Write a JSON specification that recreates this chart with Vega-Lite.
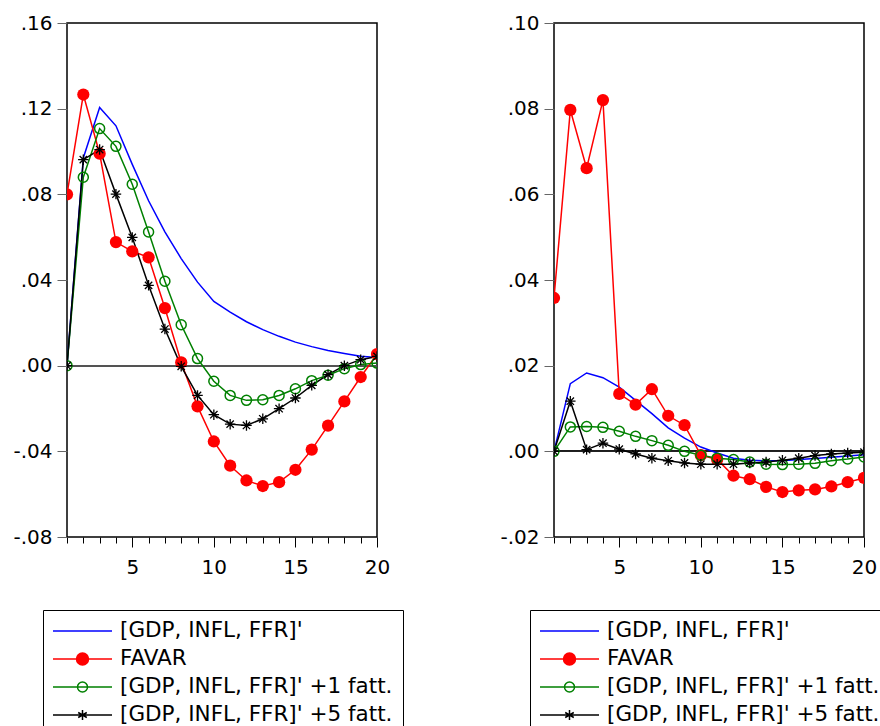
{
  "$schema": "https://vega.github.io/schema/vega-lite/v6.json",
  "padding": {"left": 12, "top": 12, "right": 0, "bottom": 0},
  "background": "white",
  "config": {"view": {"stroke": "black", "strokeWidth": 1.5}, "font": "DejaVu Sans"},
  "spacing": 177,
  "bounds": "flush",
  "resolve": {"scale": {"x": "independent", "y": "independent", "color": "independent"}, "legend": {"color": "independent"}},
  "datasets": {
    "irf": [
      {"p":"L","s":"[GDP, INFL, FFR]'","x":1,"y":0},
      {"p":"L","s":"[GDP, INFL, FFR]'","x":2,"y":0.097},
      {"p":"L","s":"[GDP, INFL, FFR]'","x":3,"y":0.1205},
      {"p":"L","s":"[GDP, INFL, FFR]'","x":4,"y":0.112},
      {"p":"L","s":"[GDP, INFL, FFR]'","x":5,"y":0.094},
      {"p":"L","s":"[GDP, INFL, FFR]'","x":6,"y":0.077},
      {"p":"L","s":"[GDP, INFL, FFR]'","x":7,"y":0.0625},
      {"p":"L","s":"[GDP, INFL, FFR]'","x":8,"y":0.05},
      {"p":"L","s":"[GDP, INFL, FFR]'","x":9,"y":0.039},
      {"p":"L","s":"[GDP, INFL, FFR]'","x":10,"y":0.03},
      {"p":"L","s":"[GDP, INFL, FFR]'","x":11,"y":0.025},
      {"p":"L","s":"[GDP, INFL, FFR]'","x":12,"y":0.0205},
      {"p":"L","s":"[GDP, INFL, FFR]'","x":13,"y":0.0168},
      {"p":"L","s":"[GDP, INFL, FFR]'","x":14,"y":0.0137},
      {"p":"L","s":"[GDP, INFL, FFR]'","x":15,"y":0.011},
      {"p":"L","s":"[GDP, INFL, FFR]'","x":16,"y":0.0089},
      {"p":"L","s":"[GDP, INFL, FFR]'","x":17,"y":0.0071},
      {"p":"L","s":"[GDP, INFL, FFR]'","x":18,"y":0.0057},
      {"p":"L","s":"[GDP, INFL, FFR]'","x":19,"y":0.0044},
      {"p":"L","s":"[GDP, INFL, FFR]'","x":20,"y":0.0038},
      {"p":"L","s":"FAVAR","x":1,"y":0.080},
      {"p":"L","s":"FAVAR","x":2,"y":0.1266},
      {"p":"L","s":"FAVAR","x":3,"y":0.099},
      {"p":"L","s":"FAVAR","x":4,"y":0.0577},
      {"p":"L","s":"FAVAR","x":5,"y":0.0534},
      {"p":"L","s":"FAVAR","x":6,"y":0.0506},
      {"p":"L","s":"FAVAR","x":7,"y":0.0269},
      {"p":"L","s":"FAVAR","x":8,"y":0.0015},
      {"p":"L","s":"FAVAR","x":9,"y":-0.019},
      {"p":"L","s":"FAVAR","x":10,"y":-0.0354},
      {"p":"L","s":"FAVAR","x":11,"y":-0.0467},
      {"p":"L","s":"FAVAR","x":12,"y":-0.0536},
      {"p":"L","s":"FAVAR","x":13,"y":-0.0562},
      {"p":"L","s":"FAVAR","x":14,"y":-0.0544},
      {"p":"L","s":"FAVAR","x":15,"y":-0.0486},
      {"p":"L","s":"FAVAR","x":16,"y":-0.0392},
      {"p":"L","s":"FAVAR","x":17,"y":-0.028},
      {"p":"L","s":"FAVAR","x":18,"y":-0.0167},
      {"p":"L","s":"FAVAR","x":19,"y":-0.0053},
      {"p":"L","s":"FAVAR","x":20,"y":0.0054},
      {"p":"L","s":"[GDP, INFL, FFR]' +1 fatt.","x":1,"y":0},
      {"p":"L","s":"[GDP, INFL, FFR]' +1 fatt.","x":2,"y":0.088},
      {"p":"L","s":"[GDP, INFL, FFR]' +1 fatt.","x":3,"y":0.1107},
      {"p":"L","s":"[GDP, INFL, FFR]' +1 fatt.","x":4,"y":0.1024},
      {"p":"L","s":"[GDP, INFL, FFR]' +1 fatt.","x":5,"y":0.0847},
      {"p":"L","s":"[GDP, INFL, FFR]' +1 fatt.","x":6,"y":0.0624},
      {"p":"L","s":"[GDP, INFL, FFR]' +1 fatt.","x":7,"y":0.0394},
      {"p":"L","s":"[GDP, INFL, FFR]' +1 fatt.","x":8,"y":0.0191},
      {"p":"L","s":"[GDP, INFL, FFR]' +1 fatt.","x":9,"y":0.0033},
      {"p":"L","s":"[GDP, INFL, FFR]' +1 fatt.","x":10,"y":-0.0073},
      {"p":"L","s":"[GDP, INFL, FFR]' +1 fatt.","x":11,"y":-0.0139},
      {"p":"L","s":"[GDP, INFL, FFR]' +1 fatt.","x":12,"y":-0.0162},
      {"p":"L","s":"[GDP, INFL, FFR]' +1 fatt.","x":13,"y":-0.0159},
      {"p":"L","s":"[GDP, INFL, FFR]' +1 fatt.","x":14,"y":-0.0139},
      {"p":"L","s":"[GDP, INFL, FFR]' +1 fatt.","x":15,"y":-0.0108},
      {"p":"L","s":"[GDP, INFL, FFR]' +1 fatt.","x":16,"y":-0.007},
      {"p":"L","s":"[GDP, INFL, FFR]' +1 fatt.","x":17,"y":-0.0045},
      {"p":"L","s":"[GDP, INFL, FFR]' +1 fatt.","x":18,"y":-0.0014},
      {"p":"L","s":"[GDP, INFL, FFR]' +1 fatt.","x":19,"y":0.0005},
      {"p":"L","s":"[GDP, INFL, FFR]' +1 fatt.","x":20,"y":0.0012},
      {"p":"L","s":"[GDP, INFL, FFR]' +5 fatt.","x":1,"y":0},
      {"p":"L","s":"[GDP, INFL, FFR]' +5 fatt.","x":2,"y":0.0962},
      {"p":"L","s":"[GDP, INFL, FFR]' +5 fatt.","x":3,"y":0.1009},
      {"p":"L","s":"[GDP, INFL, FFR]' +5 fatt.","x":4,"y":0.0801},
      {"p":"L","s":"[GDP, INFL, FFR]' +5 fatt.","x":5,"y":0.0599},
      {"p":"L","s":"[GDP, INFL, FFR]' +5 fatt.","x":6,"y":0.0375},
      {"p":"L","s":"[GDP, INFL, FFR]' +5 fatt.","x":7,"y":0.0171},
      {"p":"L","s":"[GDP, INFL, FFR]' +5 fatt.","x":8,"y":-0.0003},
      {"p":"L","s":"[GDP, INFL, FFR]' +5 fatt.","x":9,"y":-0.0139},
      {"p":"L","s":"[GDP, INFL, FFR]' +5 fatt.","x":10,"y":-0.0229},
      {"p":"L","s":"[GDP, INFL, FFR]' +5 fatt.","x":11,"y":-0.0273},
      {"p":"L","s":"[GDP, INFL, FFR]' +5 fatt.","x":12,"y":-0.0279},
      {"p":"L","s":"[GDP, INFL, FFR]' +5 fatt.","x":13,"y":-0.0248},
      {"p":"L","s":"[GDP, INFL, FFR]' +5 fatt.","x":14,"y":-0.0201},
      {"p":"L","s":"[GDP, INFL, FFR]' +5 fatt.","x":15,"y":-0.0151},
      {"p":"L","s":"[GDP, INFL, FFR]' +5 fatt.","x":16,"y":-0.0092},
      {"p":"L","s":"[GDP, INFL, FFR]' +5 fatt.","x":17,"y":-0.0042},
      {"p":"L","s":"[GDP, INFL, FFR]' +5 fatt.","x":18,"y":0.0},
      {"p":"L","s":"[GDP, INFL, FFR]' +5 fatt.","x":19,"y":0.0028},
      {"p":"L","s":"[GDP, INFL, FFR]' +5 fatt.","x":20,"y":0.0043},
      {"p":"R","s":"[GDP, INFL, FFR]'","x":1,"y":0},
      {"p":"R","s":"[GDP, INFL, FFR]'","x":2,"y":0.0158},
      {"p":"R","s":"[GDP, INFL, FFR]'","x":3,"y":0.0183},
      {"p":"R","s":"[GDP, INFL, FFR]'","x":4,"y":0.0172},
      {"p":"R","s":"[GDP, INFL, FFR]'","x":5,"y":0.015},
      {"p":"R","s":"[GDP, INFL, FFR]'","x":6,"y":0.0119},
      {"p":"R","s":"[GDP, INFL, FFR]'","x":7,"y":0.0088},
      {"p":"R","s":"[GDP, INFL, FFR]'","x":8,"y":0.0055},
      {"p":"R","s":"[GDP, INFL, FFR]'","x":9,"y":0.0031},
      {"p":"R","s":"[GDP, INFL, FFR]'","x":10,"y":0.001},
      {"p":"R","s":"[GDP, INFL, FFR]'","x":11,"y":-0.0004},
      {"p":"R","s":"[GDP, INFL, FFR]'","x":12,"y":-0.0016},
      {"p":"R","s":"[GDP, INFL, FFR]'","x":13,"y":-0.0021},
      {"p":"R","s":"[GDP, INFL, FFR]'","x":14,"y":-0.0022},
      {"p":"R","s":"[GDP, INFL, FFR]'","x":15,"y":-0.0022},
      {"p":"R","s":"[GDP, INFL, FFR]'","x":16,"y":-0.0019},
      {"p":"R","s":"[GDP, INFL, FFR]'","x":17,"y":-0.0017},
      {"p":"R","s":"[GDP, INFL, FFR]'","x":18,"y":-0.0014},
      {"p":"R","s":"[GDP, INFL, FFR]'","x":19,"y":-0.0011},
      {"p":"R","s":"[GDP, INFL, FFR]'","x":20,"y":-0.0008},
      {"p":"R","s":"FAVAR","x":1,"y":0.0358},
      {"p":"R","s":"FAVAR","x":2,"y":0.0797},
      {"p":"R","s":"FAVAR","x":3,"y":0.0661},
      {"p":"R","s":"FAVAR","x":4,"y":0.082},
      {"p":"R","s":"FAVAR","x":5,"y":0.0134},
      {"p":"R","s":"FAVAR","x":6,"y":0.0109},
      {"p":"R","s":"FAVAR","x":7,"y":0.0145},
      {"p":"R","s":"FAVAR","x":8,"y":0.0083},
      {"p":"R","s":"FAVAR","x":9,"y":0.0061},
      {"p":"R","s":"FAVAR","x":10,"y":-0.0009},
      {"p":"R","s":"FAVAR","x":11,"y":-0.0019},
      {"p":"R","s":"FAVAR","x":12,"y":-0.0057},
      {"p":"R","s":"FAVAR","x":13,"y":-0.0065},
      {"p":"R","s":"FAVAR","x":14,"y":-0.0083},
      {"p":"R","s":"FAVAR","x":15,"y":-0.0095},
      {"p":"R","s":"FAVAR","x":16,"y":-0.0091},
      {"p":"R","s":"FAVAR","x":17,"y":-0.0089},
      {"p":"R","s":"FAVAR","x":18,"y":-0.0082},
      {"p":"R","s":"FAVAR","x":19,"y":-0.0072},
      {"p":"R","s":"FAVAR","x":20,"y":-0.0062},
      {"p":"R","s":"[GDP, INFL, FFR]' +1 fatt.","x":1,"y":0},
      {"p":"R","s":"[GDP, INFL, FFR]' +1 fatt.","x":2,"y":0.0057},
      {"p":"R","s":"[GDP, INFL, FFR]' +1 fatt.","x":3,"y":0.0058},
      {"p":"R","s":"[GDP, INFL, FFR]' +1 fatt.","x":4,"y":0.0056},
      {"p":"R","s":"[GDP, INFL, FFR]' +1 fatt.","x":5,"y":0.0047},
      {"p":"R","s":"[GDP, INFL, FFR]' +1 fatt.","x":6,"y":0.0035},
      {"p":"R","s":"[GDP, INFL, FFR]' +1 fatt.","x":7,"y":0.0025},
      {"p":"R","s":"[GDP, INFL, FFR]' +1 fatt.","x":8,"y":0.0014},
      {"p":"R","s":"[GDP, INFL, FFR]' +1 fatt.","x":9,"y":0.0},
      {"p":"R","s":"[GDP, INFL, FFR]' +1 fatt.","x":10,"y":-0.0009},
      {"p":"R","s":"[GDP, INFL, FFR]' +1 fatt.","x":11,"y":-0.0016},
      {"p":"R","s":"[GDP, INFL, FFR]' +1 fatt.","x":12,"y":-0.0019},
      {"p":"R","s":"[GDP, INFL, FFR]' +1 fatt.","x":13,"y":-0.0025},
      {"p":"R","s":"[GDP, INFL, FFR]' +1 fatt.","x":14,"y":-0.003},
      {"p":"R","s":"[GDP, INFL, FFR]' +1 fatt.","x":15,"y":-0.0031},
      {"p":"R","s":"[GDP, INFL, FFR]' +1 fatt.","x":16,"y":-0.003},
      {"p":"R","s":"[GDP, INFL, FFR]' +1 fatt.","x":17,"y":-0.0028},
      {"p":"R","s":"[GDP, INFL, FFR]' +1 fatt.","x":18,"y":-0.0022},
      {"p":"R","s":"[GDP, INFL, FFR]' +1 fatt.","x":19,"y":-0.0018},
      {"p":"R","s":"[GDP, INFL, FFR]' +1 fatt.","x":20,"y":-0.0013},
      {"p":"R","s":"[GDP, INFL, FFR]' +5 fatt.","x":1,"y":0},
      {"p":"R","s":"[GDP, INFL, FFR]' +5 fatt.","x":2,"y":0.0117},
      {"p":"R","s":"[GDP, INFL, FFR]' +5 fatt.","x":3,"y":0.0004},
      {"p":"R","s":"[GDP, INFL, FFR]' +5 fatt.","x":4,"y":0.0019},
      {"p":"R","s":"[GDP, INFL, FFR]' +5 fatt.","x":5,"y":0.0005},
      {"p":"R","s":"[GDP, INFL, FFR]' +5 fatt.","x":6,"y":-0.0006},
      {"p":"R","s":"[GDP, INFL, FFR]' +5 fatt.","x":7,"y":-0.0016},
      {"p":"R","s":"[GDP, INFL, FFR]' +5 fatt.","x":8,"y":-0.0022},
      {"p":"R","s":"[GDP, INFL, FFR]' +5 fatt.","x":9,"y":-0.0027},
      {"p":"R","s":"[GDP, INFL, FFR]' +5 fatt.","x":10,"y":-0.003},
      {"p":"R","s":"[GDP, INFL, FFR]' +5 fatt.","x":11,"y":-0.003},
      {"p":"R","s":"[GDP, INFL, FFR]' +5 fatt.","x":12,"y":-0.003},
      {"p":"R","s":"[GDP, INFL, FFR]' +5 fatt.","x":13,"y":-0.0027},
      {"p":"R","s":"[GDP, INFL, FFR]' +5 fatt.","x":14,"y":-0.0025},
      {"p":"R","s":"[GDP, INFL, FFR]' +5 fatt.","x":15,"y":-0.0021},
      {"p":"R","s":"[GDP, INFL, FFR]' +5 fatt.","x":16,"y":-0.0016},
      {"p":"R","s":"[GDP, INFL, FFR]' +5 fatt.","x":17,"y":-0.001},
      {"p":"R","s":"[GDP, INFL, FFR]' +5 fatt.","x":18,"y":-0.0006},
      {"p":"R","s":"[GDP, INFL, FFR]' +5 fatt.","x":19,"y":-0.0004},
      {"p":"R","s":"[GDP, INFL, FFR]' +5 fatt.","x":20,"y":-0.0002}
    ]
  },
  "hconcat": [
    {
      "width": 310, "height": 514,
      "data": {"name": "irf"},
      "transform": [{"filter": "datum.p === 'L'"}],
      "layer": [
        {"mark": {"type": "rule", "color": "#555", "strokeWidth": 1}, "encoding": {"y": {"datum": 0, "type": "quantitative"}}},
        {"mark": {"type": "line", "strokeWidth": 1.5, "clip": true},
         "encoding": {
           "x": {"field": "x", "type": "quantitative", "scale": {"domain": [1, 20], "nice": false, "zero": false},
                 "axis": {"title": null, "values": [1,2,3,4,5,6,7,8,9,10,11,12,13,14,15,16,17,18,19,20], "tickCount": 20, "labelExpr": "datum.value % 5 === 0 ? datum.value : ''", "tickSize": {"condition": {"test": "datum.value % 5 === 0", "value": 10}, "value": 6}, "tickColor": "black", "domain": false, "grid": false, "labelFontSize": 20, "labelColor": "black", "labelPadding": 10, "labelFlush": false, "labelOverlap": false}},
           "y": {"field": "y", "type": "quantitative", "scale": {"domain": [-0.08, 0.16], "nice": false, "zero": false},
                 "axis": {"title": null, "values": [-0.08,-0.04,0,0.04,0.08,0.12,0.16], "tickCount": 7, "labelExpr": "replace(replace(format(datum.value, '.2f'), '0.', '.'), '\u2212', '-')", "tickSize": 10, "tickColor": "#666", "domain": false, "grid": false, "labelFontSize": 20, "labelColor": "black", "labelPadding": 5}},
           "color": {"field": "s", "type": "nominal",
                     "scale": {"domain": ["[GDP, INFL, FFR]'", "FAVAR", "[GDP, INFL, FFR]' +1 fatt.", "[GDP, INFL, FFR]' +5 fatt."], "range": ["#0000ff", "#ff0000", "#008000", "#000000"]},
                     "legend": {"orient": "none", "legendX": -24, "legendY": 587, "title": null, "direction": "vertical", "strokeColor": "black", "fillColor": "white", "padding": 10, "labelFontSize": 21.5, "labelColor": "black", "labelOffset": 45, "labelLimit": 500, "symbolSize": 400, "symbolStrokeWidth": 1.5, "rowPadding": 6, "symbolType": "M-1.1,0L4.8,0",
                       "encoding": {"symbols": {
                         "shape": {"condition": [
                           {"test": "datum.value === 'FAVAR'", "value": "M-1.1,0L4.8,0M1.25,0A0.6,0.6,0,1,0,2.45,0A0.6,0.6,0,1,0,1.25,0Z"},
                           {"test": "indexof(datum.value, '+1') >= 0", "value": "M-1.1,0L4.8,0M1.35,0A0.5,0.5,0,1,0,2.35,0A0.5,0.5,0,1,0,1.35,0Z"},
                           {"test": "indexof(datum.value, '+5') >= 0", "value": "M-1.1,0L4.8,0M1.85,-0.5L1.85,0.5M1.42,-0.25L2.28,0.25M1.42,0.25L2.28,-0.25"}
                         ], "value": "M-1.1,0L4.8,0"},
                         "fill": {"condition": {"test": "datum.value === 'FAVAR'", "value": "#ff0000"}, "value": "transparent"}
                       }}}}
         }},
        {"transform": [{"filter": "datum.s === 'FAVAR'"}],
         "mark": {"type": "point", "shape": "circle", "filled": true, "color": "#ff0000", "size": 150, "opacity": 1, "clip": true},
         "encoding": {"x": {"field": "x", "type": "quantitative"}, "y": {"field": "y", "type": "quantitative"}}},
        {"transform": [{"filter": "indexof(datum.s, '+1') >= 0"}],
         "mark": {"type": "point", "shape": "circle", "filled": false, "color": "#008000", "size": 100, "strokeWidth": 1.5, "opacity": 1, "clip": true},
         "encoding": {"x": {"field": "x", "type": "quantitative"}, "y": {"field": "y", "type": "quantitative"}}},
        {"transform": [{"filter": "indexof(datum.s, '+5') >= 0"}],
         "mark": {"type": "point", "shape": "M-1,0L1,0M0,-1L0,1M-0.7,-0.7L0.7,0.7M-0.7,0.7L0.7,-0.7", "filled": false, "color": "#000000", "size": 110, "strokeWidth": 1.3, "opacity": 1, "clip": true},
         "encoding": {"x": {"field": "x", "type": "quantitative"}, "y": {"field": "y", "type": "quantitative"}}}
      ]
    },
    {
      "width": 310, "height": 514,
      "data": {"name": "irf"},
      "transform": [{"filter": "datum.p === 'R'"}],
      "layer": [
        {"mark": {"type": "rule", "color": "#222", "strokeWidth": 1}, "encoding": {"y": {"datum": 0, "type": "quantitative"}}},
        {"mark": {"type": "line", "strokeWidth": 1.5, "clip": true},
         "encoding": {
           "x": {"field": "x", "type": "quantitative", "scale": {"domain": [1, 20], "nice": false, "zero": false},
                 "axis": {"title": null, "values": [1,2,3,4,5,6,7,8,9,10,11,12,13,14,15,16,17,18,19,20], "tickCount": 20, "labelExpr": "datum.value % 5 === 0 ? datum.value : ''", "tickSize": {"condition": {"test": "datum.value % 5 === 0", "value": 10}, "value": 6}, "tickColor": "black", "domain": false, "grid": false, "labelFontSize": 20, "labelColor": "black", "labelPadding": 10, "labelFlush": false, "labelOverlap": false}},
           "y": {"field": "y", "type": "quantitative", "scale": {"domain": [-0.02, 0.10], "nice": false, "zero": false},
                 "axis": {"title": null, "values": [-0.02,0,0.02,0.04,0.06,0.08,0.10], "tickCount": 7, "labelExpr": "replace(replace(format(datum.value, '.2f'), '0.', '.'), '\u2212', '-')", "tickSize": 10, "tickColor": "#666", "domain": false, "grid": false, "labelFontSize": 20, "labelColor": "black", "labelPadding": 5}},
           "color": {"field": "s", "type": "nominal",
                     "scale": {"domain": ["[GDP, INFL, FFR]'", "FAVAR", "[GDP, INFL, FFR]' +1 fatt.", "[GDP, INFL, FFR]' +5 fatt."], "range": ["#0000ff", "#ff0000", "#008000", "#000000"]},
                     "legend": {"orient": "none", "legendX": -24, "legendY": 587, "title": null, "direction": "vertical", "strokeColor": "black", "fillColor": "white", "padding": 10, "labelFontSize": 21.5, "labelColor": "black", "labelOffset": 45, "labelLimit": 500, "symbolSize": 400, "symbolStrokeWidth": 1.5, "rowPadding": 6, "symbolType": "M-1.1,0L4.8,0",
                       "encoding": {"symbols": {
                         "shape": {"condition": [
                           {"test": "datum.value === 'FAVAR'", "value": "M-1.1,0L4.8,0M1.25,0A0.6,0.6,0,1,0,2.45,0A0.6,0.6,0,1,0,1.25,0Z"},
                           {"test": "indexof(datum.value, '+1') >= 0", "value": "M-1.1,0L4.8,0M1.35,0A0.5,0.5,0,1,0,2.35,0A0.5,0.5,0,1,0,1.35,0Z"},
                           {"test": "indexof(datum.value, '+5') >= 0", "value": "M-1.1,0L4.8,0M1.85,-0.5L1.85,0.5M1.42,-0.25L2.28,0.25M1.42,0.25L2.28,-0.25"}
                         ], "value": "M-1.1,0L4.8,0"},
                         "fill": {"condition": {"test": "datum.value === 'FAVAR'", "value": "#ff0000"}, "value": "transparent"}
                       }}}}
         }},
        {"transform": [{"filter": "datum.s === 'FAVAR'"}],
         "mark": {"type": "point", "shape": "circle", "filled": true, "color": "#ff0000", "size": 150, "opacity": 1, "clip": true},
         "encoding": {"x": {"field": "x", "type": "quantitative"}, "y": {"field": "y", "type": "quantitative"}}},
        {"transform": [{"filter": "indexof(datum.s, '+1') >= 0"}],
         "mark": {"type": "point", "shape": "circle", "filled": false, "color": "#008000", "size": 100, "strokeWidth": 1.5, "opacity": 1, "clip": true},
         "encoding": {"x": {"field": "x", "type": "quantitative"}, "y": {"field": "y", "type": "quantitative"}}},
        {"transform": [{"filter": "indexof(datum.s, '+5') >= 0"}],
         "mark": {"type": "point", "shape": "M-1,0L1,0M0,-1L0,1M-0.7,-0.7L0.7,0.7M-0.7,0.7L0.7,-0.7", "filled": false, "color": "#000000", "size": 110, "strokeWidth": 1.3, "opacity": 1, "clip": true},
         "encoding": {"x": {"field": "x", "type": "quantitative"}, "y": {"field": "y", "type": "quantitative"}}}
      ]
    }
  ]
}
